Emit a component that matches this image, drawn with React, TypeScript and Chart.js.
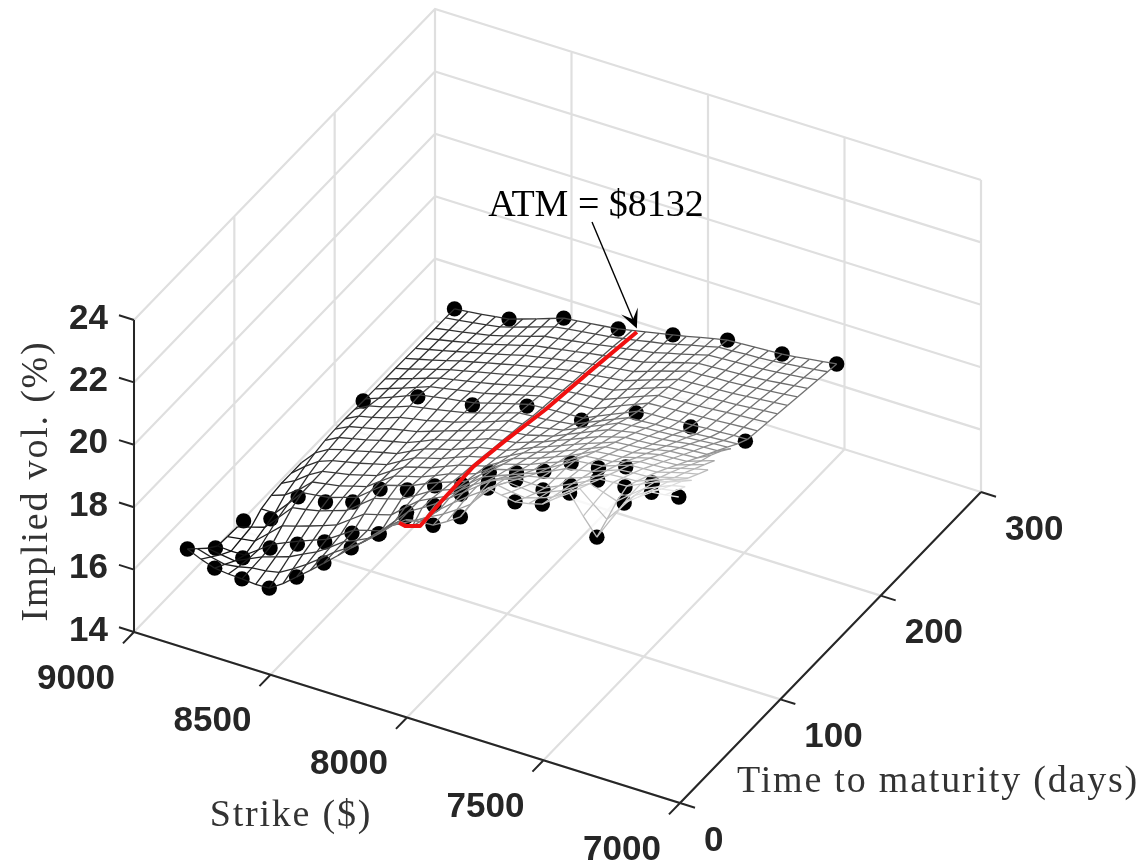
import React, { useEffect, useRef } from "react";
import { Chart, registerables } from "chart.js";

Chart.register(...registerables);

// ---- axes ----
const strikeTicks = [9000, 8500, 8000, 7500, 7000];
const timeTicks = [0, 100, 200, 300];
const volTicks = [14, 16, 18, 20, 22, 24];
const K_MAX = 9000, K_MIN = 7000, T_MIN = 0, T_MAX = 300, Z_MIN = 14, Z_MAX = 24;
const ATM_STRIKE = 8132;

// ---- observed quotes (black dots) ----
const dotStrikes26 = [8900, 8800, 8700, 8600, 8500, 8400, 8300, 8200, 8100, 8000, 7900, 7800, 7700, 7600, 7500, 7400, 7300, 7200, 7100];
const dotVols26 = [16.07, 15.73, 15.66, 15.64, 16.27, 16.99, 17.75, 18.47, 19.29, 19.3, 19.84, 21.04, 20.87, 21.07, 21.7, 20.56, 21.93, 22.55, 22.67];
const dotStrikes54 = [8900, 8800, 8700, 8600, 8500, 8400, 8300, 8200, 8100, 8000, 7900, 7800, 7700, 7600, 7500, 7400, 7300];
const dotVols54 = [15.17, 15.13, 15.72, 16.12, 16.46, 17.02, 17.27, 18.24, 18.74, 19.37, 20.03, 20.37, 20.32, 20.75, 21.19, 21.24, 21.64];
const dotStrikes82 = [8900, 8800, 8700, 8600, 8500, 8400, 8300, 8200, 8100, 8000, 7900, 7800, 7700, 7600, 7500];
const dotVols82 = [15.11, 15.45, 16.43, 16.54, 16.81, 17.5, 17.75, 18.15, 18.46, 19.14, 19.39, 19.72, 20.26, 20.37, 20.68];
const dotStrikes174 = [8800, 8600, 8400, 8200, 8000, 7800, 7600, 7400];
const dotVols174 = [16.17, 16.85, 17.14, 17.65, 17.75, 18.53, 18.63, 18.72];
const dotStrikes265 = [8800, 8600, 8400, 8200, 8000, 7800, 7600, 7400];
const dotVols265 = [16.1, 16.32, 16.9, 17.1, 17.46, 17.84, 17.94, 18.17];

// ---- at-the-money line (red) ----
const atmTimes = [28, 34, 41, 49, 69, 102, 132, 174, 220, 265];
const atmVols = [18.95, 18.65, 18.41, 18.15, 18.23, 18.29, 18.08, 17.73, 17.47, 17.19];

// ---- fitted surface (grey mesh): strike of the first value in each row, 50 $ steps ----
const meshTimes = [26, 36, 46, 56, 66, 76, 86, 96, 106, 116, 126, 136, 146, 156, 166, 176, 186, 196, 206, 216, 226, 236, 246, 256, 265];
const meshFirstStrike = [8900, 8900, 8900, 8900, 8900, 8900, 8850, 8850, 8850, 8850, 8850, 8800, 8800, 8800, 8800, 8800, 8800, 8800, 8800, 8800, 8800, 8800, 8800, 8800, 8800];
const meshVols = [
  [16.07, 15.88, 15.73, 15.68, 15.66, 15.62, 15.64, 15.92, 16.27, 16.62, 16.99, 17.36, 17.75, 18.1, 18.47, 18.88, 19.2, 19.28, 19.3, 19.55, 19.84, 20.5, 21.04, 20.95, 20.87, 20.95, 21.07, 21.4, 21.7, 21.1, 20.56, 21.25, 21.93, 22.25, 22.55, 22.6, 22.67],
  [15.75, 15.62, 15.52, 15.58, 15.68, 15.72, 15.81, 16.06, 16.34, 16.66, 17.0, 17.28, 17.58, 18.0, 18.39, 18.62, 18.85, 19.1, 19.32, 19.6, 19.91, 20.4, 20.8, 20.72, 20.67, 20.8, 20.96, 21.25, 21.52, 21.15, 20.8, 21.3, 21.83, 22.1, 22.32, 22.4],
  [15.43, 15.36, 15.3, 15.5, 15.7, 15.84, 15.98, 16.2, 16.41, 16.7, 17.01, 17.2, 17.41, 17.8, 18.2, 18.18, 18.6, 19.0, 19.35, 19.68, 19.98, 20.3, 20.56, 20.52, 20.48, 20.66, 20.84, 21.1, 21.34, 21.2, 21.05, 21.4, 21.73, 21.92, 22.1, 22.2],
  [15.17, 15.14, 15.15, 15.46, 15.77, 15.96, 16.15, 16.32, 16.48, 16.76, 17.05, 17.18, 17.3, 17.75, 18.2, 18.45, 18.72, 19.04, 19.35, 19.68, 20.0, 20.18, 20.33, 20.32, 20.32, 20.52, 20.73, 20.94, 21.15, 21.18, 21.2, 21.4, 21.6, 21.75, 21.9],
  [15.14, 15.2, 15.27, 15.65, 16.03, 16.16, 16.3, 16.45, 16.61, 16.92, 17.23, 17.35, 17.48, 17.85, 18.2, 18.42, 18.62, 18.95, 19.27, 19.52, 19.75, 19.92, 20.09, 20.19, 20.29, 20.44, 20.59, 20.78, 20.97, 21.0, 21.03, 21.2, 21.36, 21.48, 21.6],
  [15.12, 15.25, 15.38, 15.83, 16.28, 16.36, 16.45, 16.6, 16.74, 17.07, 17.4, 17.52, 17.65, 17.9, 18.17, 18.35, 18.52, 18.85, 19.19, 19.36, 19.53, 19.7, 19.86, 20.06, 20.27, 20.36, 20.46, 20.62, 20.78, 20.82, 20.85, 20.96, 21.08, 21.2],
  [15.5, 15.5, 15.95, 16.43, 16.49, 16.55, 16.69, 16.83, 17.16, 17.49, 17.62, 17.75, 17.95, 18.13, 18.28, 18.44, 18.77, 19.1, 19.22, 19.35, 19.5, 19.68, 19.93, 20.2, 20.25, 20.3, 20.45, 20.6, 20.63, 20.65, 20.78, 20.9, 21.0],
  [15.6, 15.75, 16.05, 16.44, 16.52, 16.59, 16.72, 16.84, 17.15, 17.45, 17.58, 17.7, 17.88, 18.07, 18.2, 18.35, 18.65, 18.93, 19.06, 19.2, 19.38, 19.54, 19.78, 20.01, 20.06, 20.11, 20.25, 20.38, 20.41, 20.44, 20.58, 20.7, 20.8],
  [15.65, 15.88, 16.2, 16.45, 16.54, 16.62, 16.74, 16.86, 17.14, 17.41, 17.54, 17.66, 17.84, 18.02, 18.14, 18.26, 18.52, 18.78, 18.92, 19.07, 19.24, 19.41, 19.62, 19.83, 19.88, 19.92, 20.04, 20.16, 20.19, 20.22, 20.36, 20.5],
  [15.65, 16.0, 16.3, 16.46, 16.56, 16.65, 16.77, 16.88, 17.13, 17.37, 17.5, 17.62, 17.8, 17.97, 18.08, 18.18, 18.4, 18.63, 18.78, 18.93, 19.1, 19.28, 19.46, 19.64, 19.69, 19.73, 19.84, 19.94, 19.97, 20.0, 20.15, 20.3],
  [15.65, 16.1, 16.35, 16.48, 16.58, 16.69, 16.8, 16.9, 17.12, 17.33, 17.46, 17.58, 17.75, 17.92, 18.01, 18.1, 18.28, 18.47, 18.63, 18.8, 18.98, 19.15, 19.3, 19.46, 19.5, 19.54, 19.63, 19.72, 19.75, 19.78, 20.0],
  [16.17, 16.4, 16.5, 16.6, 16.72, 16.82, 16.92, 17.1, 17.29, 17.41, 17.54, 17.7, 17.87, 17.95, 18.02, 18.17, 18.32, 18.5, 18.67, 18.85, 19.03, 19.16, 19.28, 19.31, 19.34, 19.42, 19.5, 19.53, 19.56, 19.8],
  [16.2, 16.42, 16.52, 16.62, 16.76, 16.85, 16.94, 17.09, 17.24, 17.38, 17.52, 17.67, 17.82, 17.88, 17.93, 18.05, 18.17, 18.36, 18.55, 18.74, 18.92, 19.01, 19.1, 19.13, 19.16, 19.22, 19.29, 19.32, 19.35, 19.55],
  [16.2, 16.42, 16.52, 16.64, 16.79, 16.88, 16.96, 17.08, 17.19, 17.33, 17.46, 17.62, 17.78, 17.82, 17.85, 17.94, 18.03, 18.22, 18.42, 18.61, 18.8, 18.86, 18.91, 18.94, 18.97, 19.02, 19.06, 19.1, 19.13],
  [16.18, 16.42, 16.52, 16.66, 16.82, 16.9, 16.98, 17.07, 17.16, 17.29, 17.42, 17.56, 17.7, 17.73, 17.76, 17.82, 17.88, 18.08, 18.27, 18.46, 18.64, 18.67, 18.7, 18.73, 18.76, 18.8, 18.84, 18.87, 18.9],
  [16.17, 16.33, 16.5, 16.68, 16.85, 16.92, 17.0, 17.07, 17.14, 17.27, 17.4, 17.52, 17.64, 17.67, 17.7, 17.72, 17.75, 17.95, 18.14, 18.33, 18.52, 18.55, 18.57, 18.6, 18.62, 18.65, 18.67, 18.7, 18.71],
  [16.16, 16.31, 16.46, 16.62, 16.78, 16.86, 16.95, 17.03, 17.11, 17.23, 17.35, 17.47, 17.58, 17.62, 17.65, 17.68, 17.71, 17.9, 18.09, 18.27, 18.44, 18.47, 18.49, 18.52, 18.54, 18.57, 18.6, 18.63, 18.65],
  [16.15, 16.29, 16.43, 16.58, 16.72, 16.81, 16.9, 16.99, 17.08, 17.19, 17.3, 17.41, 17.52, 17.56, 17.6, 17.64, 17.68, 17.85, 18.03, 18.2, 18.36, 18.38, 18.41, 18.43, 18.46, 18.5, 18.53, 18.56, 18.59],
  [16.15, 16.27, 16.4, 16.53, 16.66, 16.76, 16.86, 16.96, 17.06, 17.16, 17.26, 17.36, 17.46, 17.5, 17.55, 17.6, 17.65, 17.81, 17.98, 18.13, 18.29, 18.31, 18.34, 18.36, 18.39, 18.42, 18.46, 18.5, 18.53],
  [16.14, 16.25, 16.36, 16.48, 16.61, 16.71, 16.82, 16.92, 17.03, 17.12, 17.22, 17.31, 17.4, 17.45, 17.51, 17.56, 17.62, 17.77, 17.92, 18.06, 18.21, 18.23, 18.26, 18.28, 18.31, 18.35, 18.39, 18.43, 18.47],
  [16.13, 16.23, 16.33, 16.44, 16.55, 16.66, 16.77, 16.88, 17.0, 17.08, 17.17, 17.25, 17.34, 17.4, 17.46, 17.52, 17.58, 17.72, 17.87, 18.0, 18.14, 18.16, 18.19, 18.21, 18.24, 18.28, 18.32, 18.36, 18.41],
  [16.12, 16.21, 16.3, 16.4, 16.49, 16.61, 16.73, 16.85, 16.98, 17.05, 17.13, 17.2, 17.28, 17.35, 17.41, 17.48, 17.55, 17.68, 17.81, 17.94, 18.06, 18.08, 18.11, 18.13, 18.16, 18.2, 18.25, 18.3, 18.35],
  [16.11, 16.19, 16.26, 16.35, 16.43, 16.55, 16.68, 16.81, 16.95, 17.01, 17.08, 17.15, 17.22, 17.3, 17.37, 17.45, 17.52, 17.64, 17.75, 17.87, 17.99, 18.01, 18.04, 18.06, 18.09, 18.13, 18.18, 18.23, 18.29],
  [16.11, 16.17, 16.23, 16.3, 16.37, 16.5, 16.64, 16.78, 16.92, 16.98, 17.04, 17.1, 17.15, 17.23, 17.31, 17.4, 17.48, 17.59, 17.7, 17.8, 17.91, 17.93, 17.96, 17.98, 18.01, 18.06, 18.11, 18.16, 18.22],
  [16.1, 16.15, 16.2, 16.26, 16.32, 16.46, 16.6, 16.75, 16.9, 16.95, 17.0, 17.05, 17.1, 17.19, 17.28, 17.37, 17.46, 17.55, 17.65, 17.75, 17.84, 17.86, 17.89, 17.91, 17.94, 17.99, 18.05, 18.11, 18.17],
];

// ---- oblique view of the box: screen position of a (strike, time, vol) triple ----
const VIEW = { ox: 134, oy: 632, kx: 546, ky: 171, tx: 301, ty: -311, zy: -31.2 };
function project(K: number, T: number, z: number) {
  const u = (K_MAX - K) / (K_MAX - K_MIN);
  const v = T / T_MAX;
  return {
    x: VIEW.ox + VIEW.kx * u + VIEW.tx * v,
    y: VIEW.oy + VIEW.ky * u + VIEW.ty * v + VIEW.zy * (z - Z_MIN),
    z,
  };
}

const GAP = { x: NaN, y: NaN, z: NaN };
function polylines(lines: [number, number, number][][]) {
  const out: any[] = [];
  lines.forEach((l) => {
    l.forEach((p) => out.push(project(p[0], p[1], p[2])));
    out.push(GAP);
  });
  return out;
}

// walls and floor
const gridLines: [number, number, number][][] = [];
strikeTicks.forEach((K) => {
  gridLines.push([[K, T_MIN, Z_MIN], [K, T_MAX, Z_MIN], [K, T_MAX, Z_MAX]]);
});
timeTicks.forEach((T) => {
  gridLines.push([[K_MIN, T, Z_MIN], [K_MAX, T, Z_MIN], [K_MAX, T, Z_MAX]]);
});
volTicks.forEach((z) => {
  gridLines.push([[K_MAX, T_MIN, z], [K_MAX, T_MAX, z], [K_MIN, T_MAX, z]]);
});

// black axes and ticks
const TICK_K = 55, TICK_T = 11;
const axisLines: [number, number, number][][] = [
  [[K_MAX, T_MIN, Z_MAX], [K_MAX, T_MIN, Z_MIN], [K_MIN, T_MIN, Z_MIN], [K_MIN, T_MAX, Z_MIN]],
];
volTicks.forEach((z) => axisLines.push([[K_MAX, T_MIN, z], [K_MAX + TICK_K, T_MIN, z]]));
strikeTicks.forEach((K) => axisLines.push([[K, T_MIN, Z_MIN], [K, T_MIN - TICK_T, Z_MIN]]));
timeTicks.forEach((T) => axisLines.push([[K_MIN, T, Z_MIN], [K_MIN - TICK_K, T, Z_MIN]]));

// mesh lines
function meshPoint(r: number, c: number) {
  const K = meshFirstStrike[r] - 50 * c;
  return project(K, meshTimes[r], meshVols[r][c]);
}
const meshRows = meshVols.map((row, r) => row.map((_, c) => meshPoint(r, c)));
const meshCols: any[][] = [];
for (let K = 8900; K >= 7100; K -= 50) {
  const col: any[] = [];
  meshVols.forEach((row, r) => {
    const c = (meshFirstStrike[r] - K) / 50;
    if (c >= 0 && c < row.length) col.push(meshPoint(r, c));
  });
  if (col.length > 1) meshCols.push(col);
}

function meshGray(z: number) {
  const g = Math.round(Math.max(0, Math.min(1, (z - 15.1) / 7.6)) * 225 + 15);
  return `rgb(${g},${g},${g})`;
}

const dots = [
  ...dotStrikes26.map((K, i) => project(K, 26, dotVols26[i])),
  ...dotStrikes54.map((K, i) => project(K, 54, dotVols54[i])),
  ...dotStrikes82.map((K, i) => project(K, 82, dotVols82[i])),
  ...dotStrikes174.map((K, i) => project(K, 174, dotVols174[i])),
  ...dotStrikes265.map((K, i) => project(K, 265, dotVols265[i])),
];
const atmLine = atmTimes.map((T, i) => project(ATM_STRIKE, T, atmVols[i]));

const TICK_FONT = 'bold 35px "Liberation Sans", Arial, sans-serif';
const TITLE_FONT = '38px "Liberation Serif", serif';
const INK = "#262626";

// white, slightly see-through skin of the surface, drawn just under the dots
const surfacePlugin = {
  id: "surfaceSkin",
  beforeDatasetDraw(chart: any, args: any) {
    if (chart.data.datasets[args.index].label !== "Quotes") return;
    const { ctx, scales } = chart;
    const sx = (p: any) => scales.x.getPixelForValue(p.x);
    const sy = (p: any) => scales.y.getPixelForValue(p.y);
    ctx.save();
    ctx.fillStyle = "rgba(255,255,255,0.78)";
    ctx.beginPath();
    for (let r = 0; r < meshVols.length - 1; r++) {
      const shift = (meshFirstStrike[r] - meshFirstStrike[r + 1]) / 50;
      for (let c = 0; c < meshVols[r].length - 1; c++) {
        const c2 = c - shift;
        if (c2 < 0 || c2 + 1 >= meshVols[r + 1].length) continue;
        const a = meshRows[r][c], b = meshRows[r][c + 1], d = meshRows[r + 1][c2 + 1], e = meshRows[r + 1][c2];
        ctx.moveTo(sx(a), sy(a));
        ctx.lineTo(sx(b), sy(b));
        ctx.lineTo(sx(d), sy(d));
        ctx.lineTo(sx(e), sy(e));
        ctx.closePath();
      }
    }
    ctx.fill();
    ctx.restore();
  },
};

// tick labels, axis titles and the ATM call-out
const textPlugin = {
  id: "boxText",
  afterDatasetsDraw(chart: any) {
    const { ctx, scales } = chart;
    const px = (p: any) => [scales.x.getPixelForValue(p.x), scales.y.getPixelForValue(p.y)];
    ctx.save();
    ctx.fillStyle = INK;
    ctx.font = TICK_FONT;
    ctx.textBaseline = "middle";
    ctx.textAlign = "right";
    volTicks.forEach((z) => {
      const [x, y] = px(project(K_MAX, T_MIN, z));
      ctx.fillText(String(z), x - 26, y - 1);
    });
    ctx.textAlign = "center";
    strikeTicks.forEach((K) => {
      const [x, y] = px(project(K, T_MIN, Z_MIN));
      ctx.fillText(String(K), x - 58, y + 47);
    });
    ctx.textAlign = "left";
    timeTicks.forEach((T) => {
      const [x, y] = px(project(K_MIN, T, Z_MIN));
      ctx.fillText(String(T), x + 24, y + 38);
    });

    ctx.fillStyle = "#333";
    ctx.font = TITLE_FONT;
    ctx.textAlign = "center";
    (ctx as any).letterSpacing = "1.8px";
    ctx.fillText("Strike ($)", 291, 816);
    ctx.fillText("Time to maturity (days)", 938, 782);
    ctx.save();
    ctx.translate(37, 481);
    ctx.rotate(-Math.PI / 2);
    ctx.fillText("Implied vol. (%)", 0, 0);
    ctx.restore();
    (ctx as any).letterSpacing = "0px";

    ctx.fillStyle = "#000";
    ctx.font = TITLE_FONT;
    ctx.fillText("ATM = $8132", 596, 206);

    // arrow, ending on the top end of the ATM line
    const [tx, ty] = px(project(ATM_STRIKE, 265, 17.3));
    const sx = 592, sy = 222;
    const ang = Math.atan2(ty - sy, tx - sx);
    ctx.strokeStyle = "#000";
    ctx.lineWidth = 1.4;
    ctx.beginPath();
    ctx.moveTo(sx, sy);
    ctx.lineTo(tx - 6 * Math.cos(ang), ty - 6 * Math.sin(ang));
    ctx.stroke();
    ctx.fillStyle = "#000";
    ctx.beginPath();
    ctx.moveTo(tx, ty);
    const L = 19, W = 9;
    const bx = tx - L * Math.cos(ang), by = ty - L * Math.sin(ang);
    ctx.lineTo(bx - W * Math.sin(ang), by + W * Math.cos(ang));
    ctx.lineTo(tx - 10 * Math.cos(ang), ty - 10 * Math.sin(ang));
    ctx.lineTo(bx + W * Math.sin(ang), by - W * Math.cos(ang));
    ctx.closePath();
    ctx.fill();
    ctx.restore();
  },
};

function lineSet(label: string, data: any[], color: string, width: number, order: number) {
  return {
    label,
    data,
    showLine: true,
    borderColor: color,
    borderWidth: width,
    pointRadius: 0,
    spanGaps: false,
    order,
    clip: false,
  };
}

const meshSegment = {
  borderColor: (ctx: any) => {
    const d = ctx.chart.data.datasets[ctx.datasetIndex].data;
    return meshGray((d[ctx.p0DataIndex].z + d[ctx.p1DataIndex].z) / 2);
  },
};

export default function App() {
  const ref = useRef<HTMLCanvasElement | null>(null);
  useEffect(() => {
    document.body.style.margin = "0";
    document.body.style.background = "#fff";
    const chart = new Chart(ref.current as HTMLCanvasElement, {
      type: "scatter",
      data: {
        datasets: [
          { ...lineSet("ATM", atmLine, "#f01010", 4, 0), borderJoinStyle: "round" },
          ...meshRows.map((d, i) => ({ ...lineSet("row" + i, d, "#555", 1.3, 1), segment: meshSegment })),
          ...meshCols.map((d, i) => ({ ...lineSet("col" + i, d, "#555", 1.3, 1), segment: meshSegment })),
          {
            label: "Quotes",
            data: dots,
            showLine: false,
            pointRadius: 7.7,
            pointBackgroundColor: "#000",
            pointBorderWidth: 0,
            order: 2,
            clip: false,
          },
          lineSet("Axes", polylines(axisLines), INK, 2, 3),
          lineSet("Grid", polylines(gridLines), "#dfdfdf", 2.2, 4),
        ],
      },
      options: {
        responsive: false,
        animation: false,
        layout: { padding: 0, autoPadding: false },
        plugins: { legend: { display: false }, tooltip: { enabled: false } },
        scales: {
          x: { type: "linear", display: false, min: 0, max: 1145 },
          y: { type: "linear", display: false, min: 0, max: 867, reverse: true },
        },
      },
      plugins: [surfacePlugin, textPlugin],
    } as any);
    return () => chart.destroy();
  }, []);
  return <canvas ref={ref} width={1145} height={867} style={{ display: "block" }} />;
}
